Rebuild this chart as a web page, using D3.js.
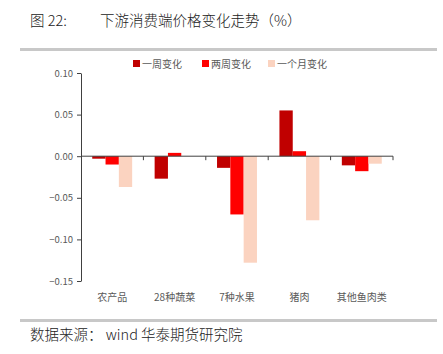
<!DOCTYPE html>
<html>
<head>
<meta charset="utf-8">
<script src="https://cdn.jsdelivr.net/npm/d3@7"></script>
<style>
  body { margin: 0; background: #fff; }
  text { font-family: "Noto Sans CJK SC", "Noto Sans", sans-serif; }
</style>
</head>
<body>
<script>
	// 数据
	var categories = ['农产品', '28种蔬菜', '7种水果', '猪肉', '其他鱼肉类']
	var seriesNames = ['一周变化', '两周变化', '一个月变化']
	var weekChange = [-0.003, -0.027, -0.014, 0.055, -0.011]
	var twoWeekChange = [-0.010, 0.004, -0.070, 0.006, -0.018]
	var monthChange = [-0.037, 0.000, -0.128, -0.077, -0.009]
	var yTicks = [0.10, 0.05, 0.00, -0.05, -0.10, -0.15]
	var colors = ['#c00000', '#ff0000', '#fbd3c0']

	var width = 443, height = 354
	var svg = d3.select('body').append('svg')
		.attr('width', width)
		.attr('height', height)

	// 标题和分隔线
	svg.append('text').attr('x', 30).attr('y', 26)
		.attr('font-size', 14.5).attr('font-weight', 300).attr('fill', '#222').text('图 22:')
	svg.append('text').attr('x', 100).attr('y', 26)
		.attr('font-size', 14.5).attr('font-weight', 300).attr('fill', '#222').text('下游消费端价格变化走势（%）')
	svg.append('rect').attr('x', 20).attr('y', 48).attr('width', 417).attr('height', 3).attr('fill', '#c8c8c8')
	svg.append('rect').attr('x', 20).attr('y', 319).attr('width', 417).attr('height', 3).attr('fill', '#c8c8c8')
	svg.append('text').attr('x', 30).attr('y', 340)
		.attr('font-size', 14.5).attr('font-weight', 300).attr('fill', '#222').text('数据来源： wind 华泰期货研究院')

	var x0 = d3.scaleBand().domain(categories).range([81, 393]).paddingInner(0.36).paddingOuter(0.18)
	var x1 = d3.scaleBand().domain(d3.range(3)).range([0, x0.bandwidth()])
	var y = d3.scaleLinear().domain([-0.15, 0.10]).range([281, 73])

	var data = categories.map(function(c, i) {
		return { name: c, values: [weekChange[i], twoWeekChange[i], monthChange[i]] }
	})

	// 柱子
	var groups = svg.selectAll('.grp')
		.data(data)
		.enter()
		.append('g')
		.attr('class', 'grp')
		.attr('transform', function(d) { return 'translate(' + x0(d.name) + ',0)' })
	groups.selectAll('rect')
		.data(function(d) { return d.values })
		.enter()
		.append('rect')
		.attr('x', function(d, i) { return x1(i) })
		.attr('width', x1.bandwidth())
		.attr('y', function(d) { return y(Math.max(0, d)) })
		.attr('height', function(d) { return Math.abs(y(d) - y(0)) })
		.attr('fill', function(d, i) { return colors[i] })

	// y轴
	var yAxis = svg.append('g')
		.attr('transform', 'translate(81,0)')
		.call(d3.axisLeft(y).tickValues(yTicks).tickFormat(d3.format('.2f')).tickSize(4).tickSizeOuter(0))
	yAxis.select('.domain').attr('stroke', '#404040')
	yAxis.selectAll('line').attr('stroke', '#404040')
	yAxis.selectAll('text').attr('font-size', 9.5).attr('fill', '#595959')
		.attr('font-family', '"DejaVu Sans", sans-serif').attr('x', -8)

	// x轴 (零线)
	var boundaries = categories.map(function(c) { return x0(c) - x0.step() * x0.paddingInner() / 2 })
	boundaries.push(393)
	svg.append('line').attr('x1', 81).attr('x2', 393).attr('y1', y(0)).attr('y2', y(0))
		.attr('stroke', '#404040').attr('stroke-width', 1)
	svg.selectAll('.xtick')
		.data(boundaries.slice(1))
		.enter()
		.append('line')
		.attr('class', 'xtick')
		.attr('x1', function(d) { return d }).attr('x2', function(d) { return d })
		.attr('y1', y(0)).attr('y2', y(0) + 4)
		.attr('stroke', '#404040')
	svg.selectAll('.xlab')
		.data(categories)
		.enter()
		.append('text')
		.attr('class', 'xlab')
		.attr('x', function(d) { return x0(d) + x0.bandwidth() / 2 })
		.attr('y', 301)
		.attr('text-anchor', 'middle')
		.attr('font-size', 10)
		.attr('fill', '#595959')
		.text(function(d) { return d })

	// 图例
	var legendX = [133, 202, 268]
	var legend = svg.selectAll('.leg')
		.data(seriesNames)
		.enter()
		.append('g')
		.attr('class', 'leg')
		.attr('transform', function(d, i) { return 'translate(' + legendX[i] + ',60)' })
	legend.append('rect').attr('width', 7).attr('height', 7)
		.attr('fill', function(d, i) { return colors[i] })
	legend.append('text').attr('x', 9).attr('y', 7.5)
		.attr('font-size', 10).attr('fill', '#595959')
		.text(function(d) { return d })
</script>
</body>
</html>
